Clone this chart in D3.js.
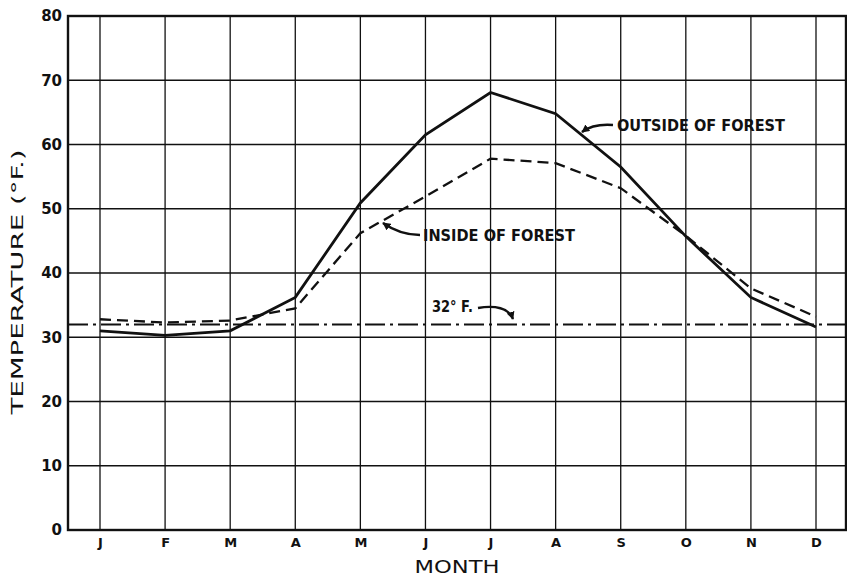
<!DOCTYPE html>
<html>
<head>
<meta charset="utf-8">
<script src="https://cdn.jsdelivr.net/npm/d3@7"></script>
<style>
  html, body { margin: 0; padding: 0; background: #fff; }
  svg { display: block; }
  text { font-family: "DejaVu Sans", "Liberation Sans", sans-serif; fill: #111; }
</style>
</head>
<body>
<svg id="chart" width="847" height="577"></svg>
<script>
// ---- data ----
const months = ["J", "F", "M", "A", "M", "J", "J", "A", "S", "O", "N", "D"];
const outsideForest = [31.0, 30.3, 31.0, 36.2, 50.9, 61.5, 68.1, 64.8, 56.5, 45.7, 36.2, 31.6];
const insideForest  = [32.8, 32.3, 32.6, 34.5, 46.2, 51.9, 57.8, 57.1, 53.2, 45.8, 37.6, 33.2];
const freezing = 32;
const yTicks = [0, 10, 20, 30, 40, 50, 60, 70, 80];

// ---- layout ----
const svg = d3.select("#chart");
const pL = 68, pR = 846, pT = 16, pB = 530;
const x = d3.scalePoint().domain(d3.range(months.length)).range([100, 816]);
const y = d3.scaleLinear().domain([0, 80]).range([pB, pT]);
const ink = "#111";
const tickFont = "'DejaVu Sans', 'Liberation Sans', sans-serif";

// grid: horizontal
svg.append("g").selectAll("line").data(yTicks).join("line")
  .attr("x1", pL).attr("x2", pR)
  .attr("y1", d => y(d)).attr("y2", d => y(d))
  .attr("stroke", ink).attr("stroke-width", 1.3);
// grid: vertical
svg.append("g").selectAll("line").data(d3.range(months.length)).join("line")
  .attr("x1", d => x(d)).attr("x2", d => x(d))
  .attr("y1", pT).attr("y2", pB)
  .attr("stroke", ink).attr("stroke-width", 1.3);

// frame
svg.append("rect").attr("x", pL).attr("y", pT)
  .attr("width", pR - pL).attr("height", pB - pT)
  .attr("fill", "none").attr("stroke", ink).attr("stroke-width", 2.4);

// y axis labels
const yAxis = d3.axisLeft(y).tickValues(yTicks).tickSize(0).tickPadding(6).tickFormat(d3.format("d"));
const gy = svg.append("g").attr("transform", `translate(${pL},0)`).call(yAxis);
gy.select(".domain").remove();
gy.selectAll("text").attr("font-size", 15).attr("font-weight", "bold")
  .attr("font-family", tickFont).attr("fill", ink);

// x axis labels
const xAxis = d3.axisBottom(x).tickSize(0).tickPadding(8).tickFormat(i => months[i]);
const gx = svg.append("g").attr("transform", `translate(0,${pB})`).call(xAxis);
gx.select(".domain").remove();
gx.selectAll("text").attr("font-size", 13).attr("font-weight", "bold")
  .attr("font-family", tickFont).attr("fill", ink);

// 32 F line
svg.append("line")
  .attr("x1", pL).attr("x2", pR)
  .attr("y1", y(freezing)).attr("y2", y(freezing))
  .attr("stroke", ink).attr("stroke-width", 2)
  .attr("stroke-dasharray", "20,5,3,5");

// series
const line = d3.line().x((d, i) => x(i)).y(d => y(d));
svg.append("path").datum(insideForest).attr("d", line)
  .attr("fill", "none").attr("stroke", ink).attr("stroke-width", 2.3)
  .attr("stroke-dasharray", "11,6");
svg.append("path").datum(outsideForest).attr("d", line)
  .attr("fill", "none").attr("stroke", ink).attr("stroke-width", 2.8)
  .attr("stroke-linejoin", "miter");

// arrowhead marker
const defs = svg.append("defs");
defs.append("marker").attr("id", "arr")
  .attr("viewBox", "0 0 10 10").attr("refX", 9).attr("refY", 5)
  .attr("markerWidth", 8).attr("markerHeight", 8).attr("orient", "auto")
  .attr("markerUnits", "userSpaceOnUse")
  .append("path").attr("d", "M0,0 L10,5 L0,10 Z").attr("fill", ink);

// annotations
function annot(txt, tx, ty, len, path) {
  svg.append("text").attr("x", tx).attr("y", ty)
    .attr("font-size", 15).attr("font-weight", "bold")
    .attr("textLength", len).attr("lengthAdjust", "spacingAndGlyphs")
    .text(txt);
  svg.append("path").attr("d", path).attr("fill", "none")
    .attr("stroke", ink).attr("stroke-width", 2.6)
    .attr("marker-end", "url(#arr)");
}
annot("OUTSIDE OF FOREST", 617, 131, 168, "M613,125 C600,124 590,126 582,132");
annot("INSIDE OF FOREST", 423, 241, 152, "M420,235 C405,235 393,230 383,223");

svg.append("text").attr("x", 432).attr("y", 312)
  .attr("font-size", 15).attr("font-weight", "bold")
  .attr("textLength", 41).attr("lengthAdjust", "spacingAndGlyphs")
  .text("32° F.");
svg.append("path").attr("d", "M478,308 C495,305 509,308 513,319").attr("fill", "none")
  .attr("stroke", ink).attr("stroke-width", 2.4).attr("marker-end", "url(#arr)");

// axis titles
svg.append("text")
  .attr("transform", `translate(23,282) rotate(-90)`)
  .attr("text-anchor", "middle").attr("font-size", 15)
  .attr("textLength", 265).attr("lengthAdjust", "spacingAndGlyphs")
  .text("TEMPERATURE (°F.)");
svg.append("text")
  .attr("x", 457).attr("y", 573)
  .attr("text-anchor", "middle").attr("font-size", 17)
  .attr("textLength", 85).attr("lengthAdjust", "spacingAndGlyphs")
  .text("MONTH");
</script>
</body>
</html>
